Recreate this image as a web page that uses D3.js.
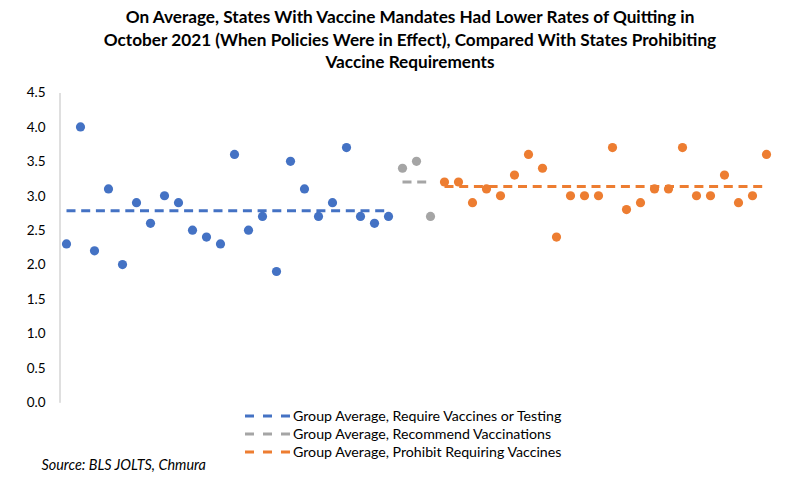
<!DOCTYPE html>
<html>
<head>
<meta charset="utf-8">
<script src="https://cdn.jsdelivr.net/npm/d3@7"></script>
<style>
  body { margin: 0; background: #fff; }
  svg { display: block; }
  text { font-family: Lato, "Open Sans", sans-serif; fill: #000; }
</style>
</head>
<body>
<svg id="chart" width="800" height="479"></svg>
<script>
// ---- Data ----
const titleLines = [
  "On Average, States With Vaccine Mandates Had Lower Rates of Quitting in",
  "October 2021 (When Policies Were in Effect), Compared With States Prohibiting",
  "Vaccine Requirements"
];
const requireValues = [2.3, 4.0, 2.2, 3.1, 2.0, 2.9, 2.6, 3.0, 2.9, 2.5, 2.4, 2.3,
                       3.6, 2.5, 2.7, 1.9, 3.5, 3.1, 2.7, 2.9, 3.7, 2.7, 2.6, 2.7];
const recommendValues = [3.4, 3.5, 2.7];
const prohibitValues = [3.2, 3.2, 2.9, 3.1, 3.0, 3.3, 3.6, 3.4, 2.4, 3.0, 3.0, 3.0,
                        3.7, 2.8, 2.9, 3.1, 3.1, 3.7, 3.0, 3.0, 3.3, 2.9, 3.0, 3.6];
const yTicks = [0, 0.5, 1.0, 1.5, 2.0, 2.5, 3.0, 3.5, 4.0, 4.5];
const legendLabels = [
  "Group Average, Require Vaccines or Testing",
  "Group Average, Recommend Vaccinations",
  "Group Average, Prohibit Requiring Vaccines"
];
const sourceText = "Source: BLS JOLTS, Chmura";

// ---- Groups ----
const colors = ["#4472C4", "#A5A5A5", "#ED7D31"];
const groups = [requireValues, recommendValues, prohibitValues];
let idx = 0;
const series = groups.map((vals, g) => {
  const pts = vals.map(v => ({ i: idx++, v }));
  return { pts, mean: d3.mean(vals), color: colors[g], label: legendLabels[g] };
});
const total = idx;

const svg = d3.select("#chart");

// ---- Scales ----
const x = d3.scaleLinear().domain([0, total]).range([59.5, 59.5 + total * 14]);
const y = d3.scaleLinear().domain([0, 4.5]).range([402.3, 92.5]);

// ---- Title ----
svg.append("g").selectAll("text").data(titleLines).join("text")
  .attr("x", 410).attr("y", (d, i) => 23 + i * 22.5)
  .attr("text-anchor", "middle")
  .style("font-weight", "700").style("font-size", "17.2px")
  .text(d => d);

// ---- Y axis ----
const yAxis = d3.axisLeft(y).tickValues(yTicks).tickSize(0).tickPadding(14)
  .tickFormat(d3.format(".1f"));
const ga = svg.append("g").attr("transform", "translate(59.5,0)").call(yAxis);
ga.select(".domain").attr("stroke", "#BFBFBF").attr("stroke-width", 1);
ga.selectAll("text").style("font-size", "13.5px").style("font-family", "Lato, sans-serif").attr("fill", "#000");

// ---- Mean lines ----
svg.append("g").selectAll("line").data(series).join("line")
  .attr("x1", d => x(d.pts[0].i + 0.5))
  .attr("x2", d => x(d.pts[d.pts.length - 1].i + 0.5))
  .attr("y1", d => y(d.mean)).attr("y2", d => y(d.mean))
  .attr("stroke", d => d.color).attr("stroke-width", 3)
  .attr("stroke-dasharray", "9,5.7");

// ---- Points ----
series.forEach(s => {
  svg.append("g").selectAll("circle").data(s.pts).join("circle")
    .attr("cx", d => x(d.i + 0.5)).attr("cy", d => y(d.v))
    .attr("r", 4.6).attr("fill", s.color);
});

// ---- Legend ----
const lg = svg.append("g").selectAll("g").data(series).join("g")
  .attr("transform", (d, i) => `translate(245,${416 + i * 18})`);
lg.append("line").attr("x1", 0).attr("x2", 47).attr("y1", 0).attr("y2", 0)
  .attr("stroke", d => d.color).attr("stroke-width", 3).attr("stroke-dasharray", "9,9");
lg.append("text").attr("x", 48).attr("y", 0).attr("dy", "0.35em")
  .style("font-size", "14.2px").text(d => d.label);

// ---- Source ----
svg.append("text").attr("x", 41.5).attr("y", 465).attr("dy", "0.35em")
  .style("font-style", "italic").style("font-size", "14.4px").text(sourceText);
</script>
</body>
</html>
